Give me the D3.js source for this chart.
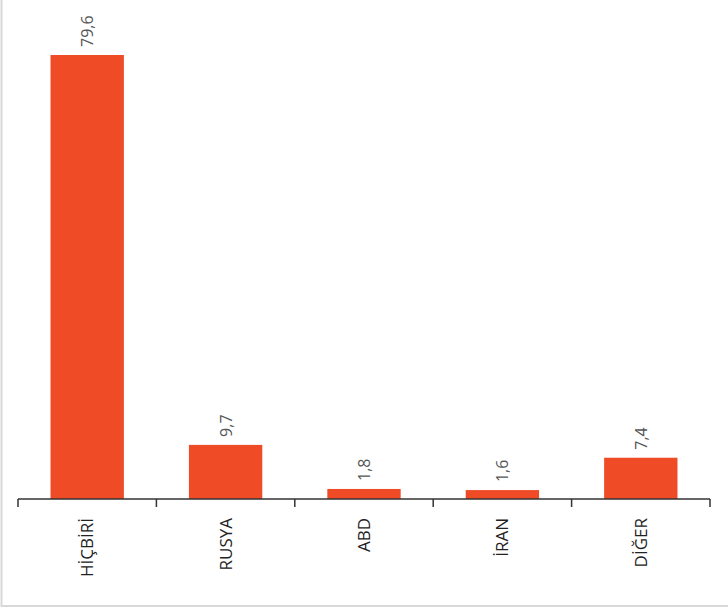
<!DOCTYPE html>
<html><head><meta charset="utf-8">
<script src="https://cdn.jsdelivr.net/npm/d3@7"></script>
<style>body{margin:0;background:#fff}</style>
</head><body><div id="chart"></div>
<script>
const categories = ['HİÇBİRİ', 'RUSYA', 'ABD', 'İRAN', 'DİĞER']
const values = [79.6, 9.7, 1.8, 1.6, 7.4]
const valueLabels = ['79,6', '9,7', '1,8', '1,6', '7,4']

const width = 728, height = 609
const svg = d3.select('#chart').append('svg').attr('width', width).attr('height', height)

// light frame
svg.append('rect').attr('x', 1.5).attr('y', -5).attr('width', width + 10).attr('height', 611)
  .attr('fill', 'none').attr('stroke', '#d8d8d8').attr('stroke-width', 2)

const x = d3.scaleBand().domain(categories).range([18, 710]).paddingInner(0.47).paddingOuter(0.235)
const y = d3.scaleLinear().domain([0, 79.6]).range([499, 55])

svg.selectAll('rect.bar').data(values).join('rect').attr('class', 'bar')
  .attr('x', (d, i) => x(categories[i])).attr('width', x.bandwidth())
  .attr('y', d => y(d)).attr('height', d => y(0) - y(d)).attr('fill', '#ef4b27')

svg.selectAll('text.val').data(values).join('text').attr('class', 'val')
  .attr('transform', (d, i) => `translate(${x(categories[i]) + x.bandwidth() / 2 + 6},${y(d) - 8}) rotate(-90)`)
  .attr('font-family', "'Open Sans', sans-serif").attr('font-size', 16).attr('fill', '#555')
  .text((d, i) => valueLabels[i])

// axis line with boundary ticks
const step = x.step()
const bounds = d3.range(categories.length + 1).map(i => 18 + i * (692 / categories.length))
svg.append('line').attr('x1', 18).attr('x2', 710).attr('y1', 499).attr('y2', 499).attr('stroke', '#333').attr('stroke-width', 1.5)
svg.selectAll('line.tick').data(bounds).join('line').attr('class', 'tick')
  .attr('x1', d => d).attr('x2', d => d).attr('y1', 499).attr('y2', 507).attr('stroke', '#333').attr('stroke-width', 1.5)

svg.selectAll('text.cat').data(categories).join('text').attr('class', 'cat')
  .attr('transform', d => `translate(${x(d) + x.bandwidth() / 2 + 6},518) rotate(-90)`)
  .attr('text-anchor', 'end')
  .attr('font-family', "'Open Sans', sans-serif").attr('font-size', 17).attr('fill', '#222')
  .text(d => d)
</script></body></html>
